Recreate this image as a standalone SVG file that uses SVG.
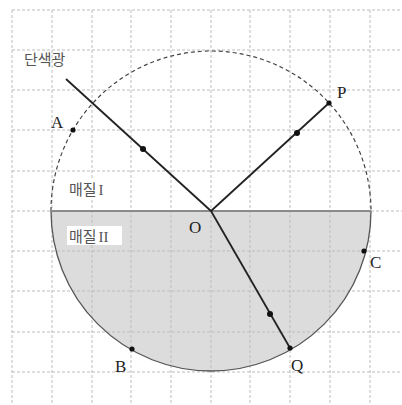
<svg xmlns="http://www.w3.org/2000/svg" width="402" height="405" viewBox="0 0 402 405">
<style>
.grid line{stroke:#bdbdbd;stroke-width:1;stroke-dasharray:3 2}
.ray{stroke:#222;stroke-width:1.8;fill:none}
.pt{fill:#111}
.lbl{font-family:"Liberation Serif","DejaVu Serif",serif;font-size:17px;fill:#222}
.kr{font-family:"Noto Sans CJK KR","Noto Sans",sans-serif;font-size:15px;fill:#555}
.rn{font-family:"Liberation Serif","DejaVu Serif",serif;font-size:15px}
</style>
<rect width="402" height="405" fill="#fff"/>
<path d="M51,211 A160,160 0 0 0 371,211 Z" fill="#dcdcdc"/>
<g class="grid">
<line x1="12" y1="10" x2="12" y2="405"/><line x1="52" y1="10" x2="52" y2="405"/><line x1="92" y1="10" x2="92" y2="405"/><line x1="131" y1="10" x2="131" y2="405"/><line x1="171" y1="10" x2="171" y2="405"/><line x1="211" y1="10" x2="211" y2="405"/><line x1="250" y1="10" x2="250" y2="405"/><line x1="290" y1="10" x2="290" y2="405"/><line x1="330" y1="10" x2="330" y2="405"/><line x1="370" y1="10" x2="370" y2="405"/>
<line x1="12" y1="10" x2="402" y2="10"/><line x1="12" y1="50" x2="402" y2="50"/><line x1="12" y1="90" x2="402" y2="90"/><line x1="12" y1="130" x2="402" y2="130"/><line x1="12" y1="171" x2="402" y2="171"/><line x1="12" y1="251" x2="402" y2="251"/><line x1="12" y1="291" x2="402" y2="291"/><line x1="12" y1="332" x2="402" y2="332"/><line x1="12" y1="372" x2="402" y2="372"/>
<line x1="12" y1="211" x2="51" y2="211"/><line x1="371" y1="211" x2="402" y2="211"/>
</g>
<g id="circle">
<path d="M51,211 A160,160 0 0 1 371,211" fill="none" stroke="#444" stroke-width="1.2" stroke-dasharray="4 3"/>
<path d="M51,211 A160,160 0 0 0 371,211" fill="none" stroke="#555" stroke-width="1.3"/>
<line x1="51" y1="211" x2="371" y2="211" stroke="#8a8a8a" stroke-width="2"/>
</g>
<g id="labels-media">
<rect x="67" y="178" width="50" height="20" fill="#fff"/>
<text class="kr" x="69" y="195">매질<tspan class="rn" dx="2">I</tspan></text>
<rect x="67" y="226" width="55" height="19" fill="#fff"/>
<text class="kr" x="69" y="242">매질<tspan class="rn" dx="2">II</tspan></text>
<text class="kr" x="24" y="65" font-size="16">단색광</text>
</g>
<g id="connectors">
<line class="ray" x1="66" y1="79" x2="211" y2="211"/>
<line class="ray" x1="211" y1="211" x2="329" y2="103"/>
<line class="ray" x1="211" y1="211" x2="290" y2="348"/>
<circle class="pt" cx="143" cy="149" r="3"/>
<circle class="pt" cx="297" cy="133" r="3"/>
<circle class="pt" cx="270" cy="314" r="3"/>
</g>
<g id="A"><circle class="pt" cx="73" cy="130" r="2.6"/><text class="lbl" x="51" y="128">A</text></g>
<g id="P"><circle class="pt" cx="329" cy="103" r="2.6"/><text class="lbl" x="337" y="98">P</text></g>
<g id="C"><circle class="pt" cx="364" cy="251" r="2.6"/><text class="lbl" x="370" y="268">C</text></g>
<g id="Q"><circle class="pt" cx="290" cy="348" r="2.6"/><text class="lbl" x="291" y="371">Q</text></g>
<g id="B"><circle class="pt" cx="132" cy="349" r="2.6"/><text class="lbl" x="115" y="372">B</text></g>
<g id="O"><text class="lbl" x="189" y="233">O</text></g>
</svg>
